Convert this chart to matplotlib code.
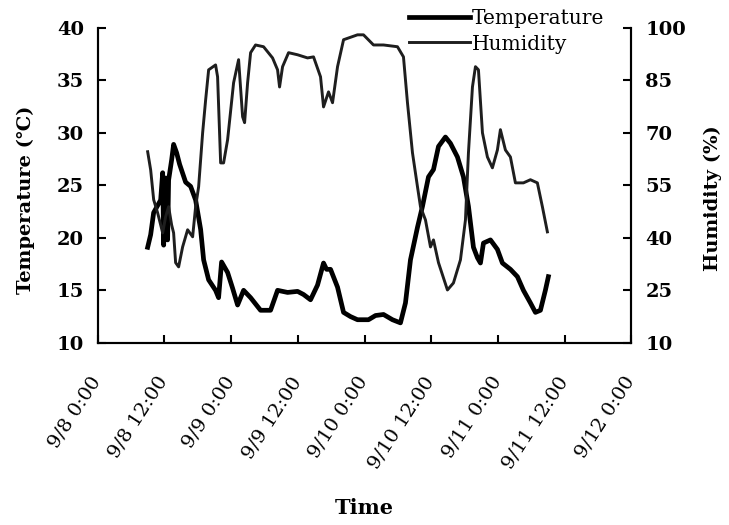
import numpy as np
import matplotlib.pyplot as plt
from matplotlib.transforms import ScaledTranslation

# hours after 9/8 0:00
temp_hours = [8.99, 9.53, 10.07, 11.33, 11.69, 11.87, 12.22, 12.58, 12.76, 13.30, 13.66, 14.20,
              14.74, 15.82, 16.72, 17.62, 18.52, 19.06, 19.96, 21.21, 21.75, 22.29, 23.37, 24.27,
              25.17, 26.25, 27.51, 29.30, 31.10, 32.36, 34.16, 35.96, 37.04, 38.29, 39.55, 40.63,
              41.17, 41.89, 43.15, 44.23, 45.48, 46.74, 48.72, 49.98, 51.42, 53.03, 54.47, 55.37,
              56.27, 57.53, 58.43, 59.51, 60.41, 61.31, 62.56, 63.46, 64.72, 65.80, 66.70, 67.60,
              68.32, 68.86, 69.40, 70.66, 71.91, 72.81, 74.25, 75.51, 76.59, 77.85, 78.75, 79.65,
              80.54, 81.08]
temperature = [19.1, 20.3, 22.4, 23.6, 26.2, 19.3, 25.7, 19.8, 25.5, 27.4, 28.9, 28.1,
               27.0, 25.3, 24.9, 23.6, 20.8, 17.9, 16.0, 15.0, 14.3, 17.7, 16.7, 15.2,
               13.6, 15.0, 14.3, 13.1, 13.1, 15.0, 14.8, 14.9, 14.6, 14.1, 15.5, 17.6,
               17.0, 17.0, 15.3, 12.9, 12.5, 12.2, 12.2, 12.6, 12.7, 12.2, 11.9, 13.8,
               17.9, 21.0, 23.0, 25.8, 26.5, 28.7, 29.6, 29.0, 27.7, 25.8, 23.0, 19.1,
               18.1, 17.6, 19.5, 19.8, 18.9, 17.6, 17.0, 16.3, 15.0, 13.8, 12.9, 13.1,
               15.0, 16.3]

hum_hours = [8.99, 9.53, 10.07, 10.79, 11.33, 11.69, 12.22, 12.76, 13.30, 13.66, 14.02, 14.56,
             15.28, 16.18, 17.08, 17.62, 18.16, 18.88, 19.42, 19.96, 21.21, 21.57, 22.12, 22.65,
             23.37, 24.45, 25.35, 26.07, 26.43, 26.97, 27.51, 28.40, 29.84, 31.46, 32.36, 32.72,
             33.26, 34.34, 35.96, 37.75, 38.83, 40.09, 40.63, 41.53, 42.25, 43.15, 44.23, 46.74,
             47.82, 49.62, 51.42, 53.93, 55.01, 55.73, 56.63, 57.53, 58.07, 58.97, 59.87, 60.41,
             61.31, 62.92, 64.00, 65.26, 66.16, 66.70, 67.42, 67.96, 68.50, 69.22, 70.11, 71.01,
             71.91, 72.45, 73.35, 74.25, 75.15, 76.59, 77.85, 79.10, 80.00, 80.90]
humidity = [64.6, 59.4, 50.9, 47.1, 43.7, 41.4, 46.0, 48.9, 43.7, 41.4, 32.9, 31.7,
            37.4, 42.3, 40.3, 48.9, 54.6, 70.0, 79.4, 88.0, 89.4, 86.0, 61.4, 61.4,
            68.0, 84.3, 90.9, 74.6, 72.9, 84.3, 92.9, 95.1, 94.6, 91.4, 88.0, 83.1,
            88.9, 92.9, 92.3, 91.4, 91.7, 86.0, 77.4, 81.7, 78.6, 88.9, 96.6, 98.0,
            98.0, 95.1, 95.1, 94.6, 91.7, 78.6, 64.3, 54.6, 48.9, 45.1, 37.4, 39.4,
            32.9, 25.1, 27.1, 33.7, 45.1, 64.3, 83.1, 88.9, 88.0, 70.0, 63.1, 60.0,
            65.1, 70.9, 65.1, 63.1, 55.7, 55.7, 56.6, 55.7, 48.9, 41.7]

tick_hours = [0, 12, 24, 36, 48, 60, 72, 84, 96]
tick_labels = ["9/8 0:00", "9/8 12:00", "9/9 0:00", "9/9 12:00", "9/10 0:00",
               "9/10 12:00", "9/11 0:00", "9/11 12:00", "9/12 0:00"]

plt.rcParams['font.family'] = ["DejaVu Serif"]

fig = plt.figure(figsize=(7.29, 5.25), dpi=100)
ax = fig.add_axes([0.134, 0.347, 0.732, 0.600])
ax2 = ax.twinx()

l1, = ax.plot(temp_hours, temperature, color='black', lw=3.4, label='Temperature')
l2, = ax2.plot(hum_hours, humidity, color='#1e1e1e', lw=2.1, label='Humidity')

ax.set_xlim(0, 96)
ax.set_ylim(10, 40)
ax2.set_ylim(10, 100)
ax.set_yticks([10, 15, 20, 25, 30, 35, 40])
ax2.set_yticks([10, 25, 40, 55, 70, 85, 100])
ax.set_xticks(tick_hours)
ax.set_xticklabels(tick_labels, rotation=57, ha='right', va='top',
                   rotation_mode='anchor', fontsize=14)

for a in (ax, ax2):
    a.spines['top'].set_visible(False)
    for s in a.spines.values():
        s.set_linewidth(1.5)
    a.tick_params(axis='y', direction='in', length=6, width=1.5, labelsize=14, pad=10)
    for lab in a.get_yticklabels():
        lab.set_fontweight('bold')
ax.tick_params(axis='x', direction='in', length=6, width=1.5, pad=22)
for lab in ax.get_xticklabels():
    lab.set_transform(lab.get_transform() + ScaledTranslation(-8 / 100, 0, fig.dpi_scale_trans))

ax.set_ylabel("Temperature (℃)", fontsize=14, fontweight='bold', va='center')
ax.yaxis.set_label_coords(-0.135, 0.454)
ax2.set_ylabel("Humidity (%)", fontsize=14, fontweight='bold', rotation=90, va='center')
ax2.yaxis.set_label_coords(1.152, 0.46)
ax.set_xlabel("Time", fontsize=15, fontweight='bold', va='center')
ax.xaxis.set_label_coords(0.5, -0.525)

fig.legend([l1, l2], ['Temperature', 'Humidity'], loc='upper right',
           bbox_to_anchor=(0.845, 1.005), frameon=False, fontsize=14.5,
           borderpad=0.1, handlelength=3.0, handletextpad=0.1, labelspacing=0.3)

fig.savefig("out.png", dpi=100)
